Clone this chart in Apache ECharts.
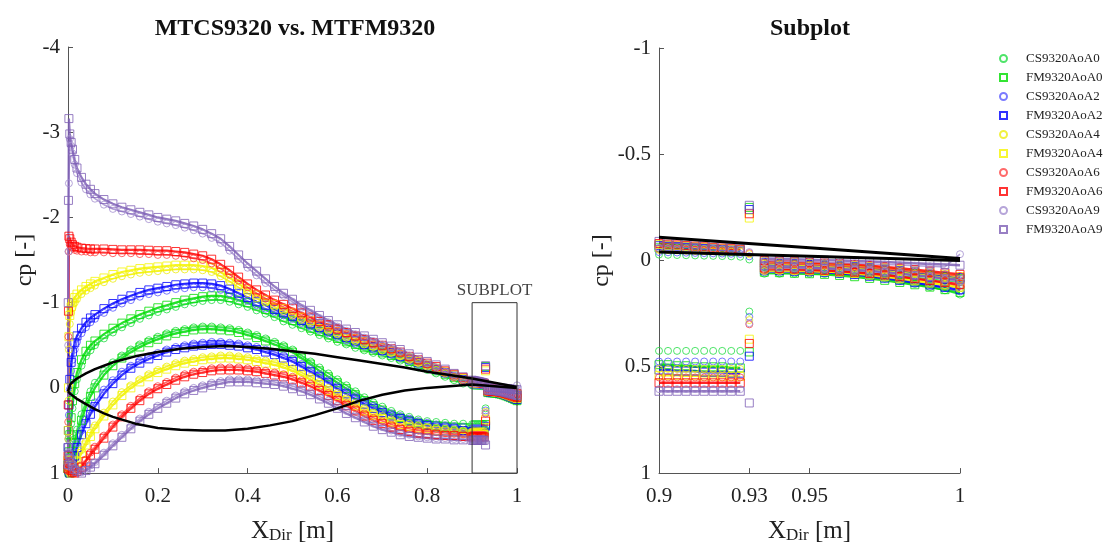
<!DOCTYPE html>
<html>
<head>
<meta charset="UTF-8">
<title>MTCS9320 vs. MTFM9320</title>
<script src="https://cdn.jsdelivr.net/npm/echarts@6/dist/echarts.min.js"></script>
<style>html,body{margin:0;background:#fff}</style>
</head>
<body>
<div id="chart" style="width:1110px;height:549px"></div>
<script>
// chord stations (upper surface incl. leading edge wrap, lower surface, trailing part 0.9-1)
const xUp = [0, 0.0005, 0.001, 0.002, 0.004, 0.007, 0.01, 0.015, 0.02, 0.03, 0.04, 0.05,
  0.06, 0.08, 0.1, 0.12, 0.14, 0.16, 0.18, 0.2, 0.22, 0.24, 0.26, 0.28, 0.3, 0.32, 0.34,
  0.36, 0.38, 0.4, 0.42, 0.44, 0.46, 0.48, 0.5, 0.52, 0.54, 0.56, 0.58, 0.6, 0.62, 0.64,
  0.66, 0.68, 0.7, 0.72, 0.74, 0.76, 0.78, 0.8, 0.82, 0.84, 0.86, 0.88];
const xLo = [0, 0.002, 0.004, 0.007, 0.01, 0.015, 0.02, 0.03, 0.04, 0.05,
  0.06, 0.08, 0.1, 0.12, 0.14, 0.16, 0.18, 0.2, 0.22, 0.24, 0.26, 0.28, 0.3, 0.32, 0.34,
  0.36, 0.38, 0.4, 0.42, 0.44, 0.46, 0.48, 0.5, 0.52, 0.54, 0.56, 0.58, 0.6, 0.62, 0.64,
  0.66, 0.68, 0.7, 0.72, 0.74, 0.76, 0.78, 0.8, 0.82, 0.84, 0.86, 0.88];
// 10 stations before the step, the step point at 0.93, 14 stations after it
const xTail = [0.9, 0.903, 0.906, 0.909, 0.912, 0.915, 0.918, 0.921, 0.924, 0.927, 0.93,
  0.935, 0.94, 0.945, 0.95, 0.955, 0.96, 0.965, 0.97, 0.975, 0.98, 0.985, 0.99, 0.995, 1];

// AoA 0
const fmUp0 = [0.95, 0.9, 0.85, 0.75, 0.55, 0.35, 0.15, -0.05, -0.18, -0.33, -0.43, -0.5,
  -0.55, -0.63, -0.7, -0.76, -0.81, -0.86, -0.9, -0.94, -0.97, -1, -1.03, -1.05, -1.07, -1.08, -1.08,
  -1.06, -1.03, -1.0, -0.96, -0.92, -0.88, -0.83, -0.79, -0.75, -0.7, -0.66, -0.62, -0.58, -0.54, -0.51,
  -0.47, -0.44, -0.41, -0.38, -0.35, -0.31, -0.27, -0.24, -0.2, -0.16, -0.12, -0.09];
const csUp0 = [0.97, 0.93, 0.88, 0.8, 0.62, 0.42, 0.24, 0.04, -0.1, -0.26, -0.37, -0.44,
  -0.5, -0.58, -0.65, -0.71, -0.76, -0.81, -0.85, -0.89, -0.92, -0.95, -0.98, -1.0, -1.02, -1.03, -1.03,
  -1.01, -0.98, -0.95, -0.91, -0.87, -0.83, -0.78, -0.74, -0.7, -0.66, -0.62, -0.58, -0.54, -0.51, -0.47,
  -0.44, -0.41, -0.38, -0.35, -0.32, -0.28, -0.24, -0.21, -0.17, -0.13, -0.09, -0.05];
const fmLo0 = [0.95, 0.99, 1.0, 0.92, 0.8, 0.65, 0.55, 0.38, 0.22, 0.1,
  0.0, -0.15, -0.26, -0.35, -0.42, -0.48, -0.53, -0.57, -0.61, -0.64, -0.66, -0.68, -0.69, -0.69, -0.68,
  -0.67, -0.65, -0.62, -0.59, -0.55, -0.51, -0.47, -0.42, -0.35, -0.28, -0.2, -0.13, -0.06, 0.01, 0.08,
  0.15, 0.21, 0.26, 0.31, 0.35, 0.38, 0.41, 0.43, 0.44, 0.45, 0.46, 0.47];
const csLo0 = [0.93, 0.98, 0.99, 0.9, 0.76, 0.6, 0.49, 0.31, 0.16, 0.04,
  -0.06, -0.2, -0.3, -0.38, -0.45, -0.51, -0.56, -0.6, -0.64, -0.67, -0.69, -0.71, -0.72, -0.72, -0.71,
  -0.7, -0.68, -0.65, -0.62, -0.58, -0.54, -0.5, -0.45, -0.38, -0.31, -0.24, -0.17, -0.1, -0.03, 0.04,
  0.11, 0.17, 0.22, 0.27, 0.31, 0.34, 0.37, 0.39, 0.4, 0.41, 0.42, 0.42];
const fmTailUp0 = [-0.06, -0.058, -0.056, -0.054, -0.052, -0.05, -0.048, -0.046, -0.044, -0.042, -0.25,
  0.015, 0.018, 0.02, 0.023, 0.026, 0.03, 0.034, 0.039, 0.045, 0.052, 0.06, 0.068, 0.077, 0.085];
const csTailUp0 = [-0.028, -0.027, -0.026, -0.025, -0.024, -0.023, -0.022, -0.021, -0.02, -0.018, -0.005,
  0.03, 0.033, 0.036, 0.04, 0.044, 0.048, 0.053, 0.058, 0.064, 0.071, 0.079, 0.087, 0.095, 0.1];
const fmTailLo0 = [0.49, 0.49, 0.495, 0.495, 0.5, 0.5, 0.5, 0.5, 0.505, 0.505, 0.43,
  0.055, 0.057, 0.06, 0.062, 0.065, 0.07, 0.076, 0.084, 0.093, 0.103, 0.114, 0.125, 0.137, 0.15];
const csTailLo0 = [0.425, 0.425, 0.425, 0.425, 0.425, 0.425, 0.425, 0.425, 0.425, 0.425, 0.24,
  0.062, 0.062, 0.062, 0.062, 0.063, 0.064, 0.068, 0.075, 0.085, 0.097, 0.11, 0.125, 0.14, 0.16];

// AoA 2
const fmUp2 = [0.9, 0.7, 0.5, 0.2, -0.1, -0.3, -0.42, -0.53, -0.61, -0.7, -0.77, -0.82,
  -0.86, -0.93, -0.99, -1.04, -1.08, -1.12, -1.15, -1.17, -1.19, -1.21, -1.22, -1.23, -1.23, -1.22, -1.2,
  -1.16, -1.11, -1.06, -1.01, -0.97, -0.92, -0.88, -0.84, -0.79, -0.75, -0.71, -0.67, -0.63, -0.59, -0.55,
  -0.51, -0.48, -0.44, -0.41, -0.37, -0.34, -0.3, -0.26, -0.22, -0.18, -0.14, -0.1];
const csUp2 = [0.93, 0.78, 0.6, 0.32, 0.02, -0.2, -0.33, -0.45, -0.54, -0.64, -0.71, -0.77,
  -0.81, -0.88, -0.94, -0.99, -1.03, -1.07, -1.1, -1.12, -1.14, -1.16, -1.17, -1.18, -1.18, -1.17, -1.15,
  -1.11, -1.07, -1.02, -0.97, -0.93, -0.89, -0.85, -0.81, -0.76, -0.72, -0.68, -0.64, -0.6, -0.56, -0.52,
  -0.49, -0.45, -0.42, -0.39, -0.35, -0.31, -0.27, -0.24, -0.2, -0.16, -0.12, -0.08];
const fmLo2 = [0.9, 0.97, 1.0, 0.97, 0.9, 0.8, 0.7, 0.55, 0.42, 0.31,
  0.22, 0.07, -0.05, -0.15, -0.23, -0.29, -0.34, -0.38, -0.42, -0.45, -0.47, -0.49, -0.5, -0.51, -0.51,
  -0.5, -0.49, -0.47, -0.45, -0.42, -0.39, -0.35, -0.31, -0.25, -0.19, -0.13, -0.06, 0.01, 0.07, 0.13,
  0.19, 0.24, 0.29, 0.33, 0.36, 0.39, 0.42, 0.44, 0.46, 0.47, 0.48, 0.5];
const csLo2 = [0.88, 0.96, 0.99, 0.95, 0.87, 0.76, 0.65, 0.5, 0.37, 0.26,
  0.17, 0.02, -0.09, -0.19, -0.26, -0.32, -0.37, -0.41, -0.45, -0.48, -0.5, -0.52, -0.53, -0.54, -0.54,
  -0.53, -0.52, -0.5, -0.48, -0.45, -0.42, -0.38, -0.34, -0.28, -0.22, -0.16, -0.09, -0.02, 0.04, 0.1,
  0.16, 0.21, 0.26, 0.3, 0.33, 0.36, 0.39, 0.41, 0.43, 0.44, 0.45, 0.46];
const fmTailUp2 = [-0.07, -0.068, -0.065, -0.063, -0.06, -0.058, -0.055, -0.053, -0.05, -0.048, -0.24,
  0.01, 0.012, 0.015, 0.018, 0.021, 0.025, 0.029, 0.034, 0.04, 0.047, 0.055, 0.063, 0.072, 0.08];
const csTailUp2 = [-0.04, -0.039, -0.038, -0.037, -0.036, -0.035, -0.034, -0.033, -0.032, -0.031, -0.02,
  0.02, 0.023, 0.026, 0.03, 0.034, 0.038, 0.043, 0.048, 0.054, 0.061, 0.069, 0.077, 0.085, 0.093];
const fmTailLo2 = [0.515, 0.515, 0.52, 0.52, 0.52, 0.525, 0.525, 0.525, 0.53, 0.53, 0.45,
  0.045, 0.047, 0.05, 0.052, 0.055, 0.06, 0.066, 0.074, 0.083, 0.093, 0.104, 0.115, 0.126, 0.137];
const csTailLo2 = [0.475, 0.475, 0.475, 0.475, 0.475, 0.475, 0.475, 0.475, 0.475, 0.475, 0.265,
  0.055, 0.055, 0.056, 0.057, 0.058, 0.06, 0.064, 0.07, 0.079, 0.09, 0.102, 0.115, 0.13, 0.145];

// AoA 4
const fmUp4 = [0.9, 0.5, 0.0, -0.6, -0.85, -0.95, -1.0, -1.06, -1.1, -1.15, -1.19, -1.22,
  -1.25, -1.29, -1.33, -1.36, -1.38, -1.4, -1.41, -1.42, -1.43, -1.44, -1.44, -1.44, -1.43, -1.41, -1.36,
  -1.29, -1.22, -1.15, -1.09, -1.03, -0.98, -0.93, -0.88, -0.83, -0.79, -0.74, -0.7, -0.66, -0.62, -0.58,
  -0.54, -0.5, -0.47, -0.43, -0.39, -0.35, -0.31, -0.27, -0.23, -0.19, -0.15, -0.11];
const csUp4 = [0.93, 0.6, 0.15, -0.45, -0.75, -0.88, -0.94, -1.0, -1.04, -1.1, -1.14, -1.17,
  -1.2, -1.24, -1.28, -1.31, -1.33, -1.35, -1.36, -1.37, -1.38, -1.39, -1.39, -1.39, -1.38, -1.36, -1.31,
  -1.25, -1.18, -1.11, -1.05, -1.0, -0.95, -0.9, -0.85, -0.8, -0.76, -0.71, -0.67, -0.63, -0.59, -0.55,
  -0.51, -0.48, -0.44, -0.41, -0.37, -0.33, -0.29, -0.25, -0.21, -0.17, -0.12, -0.08];
const fmLo4 = [0.85, 0.93, 0.97, 1.0, 0.98, 0.93, 0.87, 0.77, 0.67, 0.57,
  0.48, 0.33, 0.2, 0.09, 0.0, -0.07, -0.13, -0.18, -0.22, -0.26, -0.29, -0.31, -0.33, -0.34, -0.35,
  -0.35, -0.34, -0.33, -0.31, -0.29, -0.27, -0.24, -0.2, -0.15, -0.1, -0.04, 0.03, 0.09, 0.15, 0.21,
  0.27, 0.32, 0.36, 0.4, 0.43, 0.45, 0.47, 0.48, 0.5, 0.51, 0.52, 0.53];
const csLo4 = [0.83, 0.92, 0.96, 0.99, 0.97, 0.91, 0.84, 0.73, 0.63, 0.53,
  0.44, 0.29, 0.16, 0.05, -0.03, -0.1, -0.16, -0.21, -0.25, -0.29, -0.32, -0.34, -0.36, -0.37, -0.38,
  -0.38, -0.37, -0.36, -0.34, -0.32, -0.3, -0.27, -0.23, -0.18, -0.13, -0.07, 0.0, 0.06, 0.12, 0.18,
  0.24, 0.29, 0.33, 0.37, 0.4, 0.42, 0.44, 0.46, 0.47, 0.48, 0.49, 0.5];
const fmTailUp4 = [-0.075, -0.072, -0.07, -0.067, -0.064, -0.062, -0.059, -0.056, -0.053, -0.05, -0.2,
  0.005, 0.008, 0.01, 0.013, 0.016, 0.02, 0.024, 0.029, 0.035, 0.042, 0.05, 0.058, 0.066, 0.075];
const csTailUp4 = [-0.05, -0.049, -0.048, -0.047, -0.046, -0.045, -0.044, -0.043, -0.042, -0.041, -0.03,
  0.015, 0.018, 0.021, 0.024, 0.028, 0.032, 0.037, 0.042, 0.048, 0.055, 0.062, 0.07, 0.078, 0.086];
const fmTailLo4 = [0.54, 0.54, 0.54, 0.542, 0.542, 0.544, 0.544, 0.545, 0.545, 0.545, 0.37,
  0.04, 0.042, 0.045, 0.048, 0.051, 0.055, 0.061, 0.068, 0.076, 0.085, 0.095, 0.105, 0.115, 0.125];
const csTailLo4 = [0.51, 0.51, 0.51, 0.51, 0.51, 0.51, 0.51, 0.51, 0.51, 0.51, 0.28,
  0.05, 0.05, 0.051, 0.052, 0.054, 0.056, 0.06, 0.066, 0.074, 0.083, 0.093, 0.104, 0.116, 0.13];

// AoA 6
const fmUp6 = [0.95, 0.2, -0.9, -1.78, -1.75, -1.71, -1.68, -1.66, -1.65, -1.64, -1.635, -1.63,
  -1.63, -1.63, -1.625, -1.62, -1.62, -1.62, -1.615, -1.61, -1.61, -1.6, -1.59, -1.57, -1.55, -1.51, -1.45,
  -1.38, -1.3, -1.22, -1.15, -1.09, -1.03, -0.98, -0.93, -0.88, -0.83, -0.78, -0.74, -0.69, -0.65, -0.61,
  -0.57, -0.53, -0.5, -0.46, -0.42, -0.37, -0.33, -0.29, -0.25, -0.2, -0.16, -0.12];
const csUp6 = [0.97, 0.4, -0.6, -1.6, -1.68, -1.66, -1.64, -1.62, -1.61, -1.6, -1.6, -1.59,
  -1.59, -1.59, -1.58, -1.58, -1.58, -1.57, -1.57, -1.56, -1.56, -1.55, -1.54, -1.52, -1.5, -1.46, -1.4,
  -1.33, -1.26, -1.18, -1.11, -1.05, -1.0, -0.95, -0.9, -0.85, -0.8, -0.76, -0.71, -0.67, -0.63, -0.59,
  -0.55, -0.51, -0.48, -0.44, -0.4, -0.35, -0.31, -0.27, -0.23, -0.18, -0.13, -0.09];
const fmLo6 = [0.8, 0.88, 0.93, 0.97, 0.99, 1.0, 0.98, 0.93, 0.86, 0.79,
  0.72, 0.59, 0.46, 0.34, 0.24, 0.15, 0.07, 0.01, -0.04, -0.09, -0.13, -0.16, -0.18, -0.2, -0.21,
  -0.21, -0.21, -0.2, -0.19, -0.17, -0.15, -0.13, -0.1, -0.06, -0.02, 0.03, 0.09, 0.15, 0.21, 0.27,
  0.33, 0.38, 0.42, 0.46, 0.49, 0.51, 0.53, 0.54, 0.55, 0.56, 0.56, 0.57];
const csLo6 = [0.78, 0.87, 0.92, 0.96, 0.99, 1.0, 0.97, 0.91, 0.84, 0.76,
  0.69, 0.56, 0.43, 0.31, 0.21, 0.12, 0.04, -0.02, -0.07, -0.12, -0.16, -0.19, -0.21, -0.23, -0.24,
  -0.24, -0.24, -0.23, -0.22, -0.2, -0.18, -0.16, -0.13, -0.09, -0.05, 0.0, 0.06, 0.12, 0.18, 0.24,
  0.3, 0.35, 0.39, 0.43, 0.46, 0.48, 0.5, 0.51, 0.52, 0.53, 0.54, 0.545];
const fmTailUp6 = [-0.08, -0.077, -0.074, -0.071, -0.068, -0.065, -0.062, -0.059, -0.056, -0.053, -0.22,
  0.0, 0.003, 0.006, 0.009, 0.012, 0.015, 0.019, 0.024, 0.03, 0.036, 0.043, 0.05, 0.058, 0.065];
const csTailUp6 = [-0.055, -0.054, -0.053, -0.052, -0.051, -0.05, -0.049, -0.048, -0.047, -0.046, -0.035,
  0.01, 0.013, 0.016, 0.019, 0.022, 0.026, 0.03, 0.035, 0.04, 0.046, 0.052, 0.059, 0.066, 0.073];
const fmTailLo6 = [0.575, 0.575, 0.575, 0.575, 0.575, 0.575, 0.575, 0.575, 0.575, 0.575, 0.39,
  0.035, 0.037, 0.04, 0.043, 0.046, 0.05, 0.055, 0.061, 0.068, 0.076, 0.085, 0.094, 0.103, 0.112];
const csTailLo6 = [0.55, 0.55, 0.55, 0.55, 0.55, 0.55, 0.55, 0.55, 0.55, 0.55, 0.3,
  0.045, 0.045, 0.046, 0.047, 0.049, 0.051, 0.055, 0.06, 0.067, 0.075, 0.084, 0.094, 0.105, 0.12];

// AoA 9
const fmUp9 = [0.9, -1.0, -2.2, -3.16, -2.98, -2.88, -2.8, -2.68, -2.58, -2.47, -2.39, -2.33,
  -2.28, -2.21, -2.16, -2.12, -2.09, -2.06, -2.03, -2.0, -1.98, -1.96, -1.93, -1.9, -1.86, -1.81, -1.75,
  -1.66, -1.56, -1.46, -1.37, -1.28, -1.19, -1.11, -1.04, -0.97, -0.91, -0.85, -0.79, -0.74, -0.69, -0.65,
  -0.61, -0.57, -0.53, -0.49, -0.45, -0.4, -0.36, -0.31, -0.27, -0.22, -0.17, -0.13];
const csUp9 = [0.92, -0.5, -1.6, -2.4, -2.92, -2.84, -2.75, -2.62, -2.52, -2.41, -2.33, -2.27,
  -2.22, -2.15, -2.1, -2.07, -2.04, -2.01, -1.98, -1.95, -1.93, -1.91, -1.88, -1.85, -1.81, -1.76, -1.7,
  -1.61, -1.51, -1.41, -1.32, -1.23, -1.15, -1.08, -1.01, -0.94, -0.88, -0.82, -0.77, -0.72, -0.67, -0.63,
  -0.59, -0.55, -0.51, -0.47, -0.43, -0.38, -0.34, -0.29, -0.24, -0.19, -0.14, -0.1];
const fmLo9 = [0.7, 0.78, 0.83, 0.88, 0.92, 0.96, 0.98, 1.0, 0.97, 0.93,
  0.89, 0.79, 0.68, 0.58, 0.48, 0.39, 0.31, 0.24, 0.18, 0.12, 0.07, 0.03, 0.0, -0.03, -0.05,
  -0.07, -0.07, -0.07, -0.06, -0.05, -0.04, -0.02, 0.01, 0.04, 0.08, 0.13, 0.18, 0.24, 0.3, 0.35,
  0.4, 0.45, 0.49, 0.52, 0.55, 0.57, 0.58, 0.59, 0.6, 0.6, 0.61, 0.61];
const csLo9 = [0.68, 0.76, 0.82, 0.87, 0.91, 0.95, 0.97, 0.99, 0.96, 0.91,
  0.87, 0.76, 0.65, 0.55, 0.45, 0.36, 0.28, 0.21, 0.15, 0.09, 0.04, 0.0, -0.03, -0.06, -0.08,
  -0.1, -0.1, -0.1, -0.09, -0.08, -0.07, -0.05, -0.02, 0.01, 0.05, 0.1, 0.15, 0.21, 0.27, 0.32,
  0.37, 0.42, 0.46, 0.5, 0.53, 0.55, 0.57, 0.58, 0.59, 0.59, 0.6, 0.6];
const fmTailUp9 = [-0.09, -0.087, -0.083, -0.08, -0.077, -0.073, -0.07, -0.066, -0.062, -0.058, -0.26,
  -0.01, -0.008, -0.006, -0.004, -0.002, 0.0, 0.002, 0.004, 0.007, 0.01, 0.013, 0.016, 0.019, 0.022];
const csTailUp9 = [-0.06, -0.059, -0.058, -0.057, -0.056, -0.055, -0.054, -0.053, -0.052, -0.051, -0.04,
  0.0, 0.002, 0.004, 0.006, 0.008, 0.01, 0.012, 0.015, 0.018, 0.021, 0.024, 0.027, 0.03, -0.03];
const fmTailLo9 = [0.615, 0.615, 0.615, 0.615, 0.615, 0.615, 0.615, 0.615, 0.615, 0.615, 0.67,
  0.025, 0.027, 0.03, 0.033, 0.036, 0.04, 0.044, 0.049, 0.055, 0.062, 0.069, 0.076, 0.084, 0.09];
const csTailLo9 = [0.605, 0.605, 0.605, 0.605, 0.605, 0.605, 0.605, 0.605, 0.605, 0.605, 0.295,
  0.035, 0.035, 0.036, 0.037, 0.038, 0.04, 0.043, 0.048, 0.054, 0.061, 0.069, 0.078, 0.088, 0.1];

// profile contour (black)
const profX  = [0, 0.005, 0.01, 0.02, 0.04, 0.06, 0.08, 0.1, 0.15, 0.2, 0.25, 0.3, 0.35, 0.4, 0.45,
  0.5, 0.55, 0.6, 0.65, 0.7, 0.75, 0.8, 0.85, 0.9, 0.95, 1];
const profUp = [0.04, -0.04, -0.07, -0.11, -0.17, -0.22, -0.26, -0.3, -0.37, -0.42, -0.46, -0.48, -0.49, -0.48, -0.46,
  -0.43, -0.4, -0.36, -0.32, -0.28, -0.24, -0.19, -0.15, -0.11, -0.06, -0.01];
const profLo = [0.04, 0.07, 0.09, 0.13, 0.19, 0.25, 0.3, 0.34, 0.42, 0.47, 0.49, 0.5, 0.5, 0.48, 0.44,
  0.39, 0.32, 0.24, 0.15, 0.08, 0.03, 0.0, -0.02, -0.04, -0.02, 0.0];

const subBox = [[0.9, -1], [1, -1], [1, 1], [0.9, 1], [0.9, -1]];
const subTicks = [0.9, 0.93, 0.95, 1];

const sets = [
  { name: 'CS9320AoA0', color: '#22dd44', shape: 'circle', up: csUp0, lo: csLo0, tu: csTailUp0, tl: csTailLo0 },
  { name: 'FM9320AoA0', color: '#00dd00', shape: 'rect',   up: fmUp0, lo: fmLo0, tu: fmTailUp0, tl: fmTailLo0 },
  { name: 'CS9320AoA2', color: '#5a5aff', shape: 'circle', up: csUp2, lo: csLo2, tu: csTailUp2, tl: csTailLo2 },
  { name: 'FM9320AoA2', color: '#0000ff', shape: 'rect',   up: fmUp2, lo: fmLo2, tu: fmTailUp2, tl: fmTailLo2 },
  { name: 'CS9320AoA4', color: '#eeee10', shape: 'circle', up: csUp4, lo: csLo4, tu: csTailUp4, tl: csTailLo4 },
  { name: 'FM9320AoA4', color: '#f5f500', shape: 'rect',   up: fmUp4, lo: fmLo4, tu: fmTailUp4, tl: fmTailLo4 },
  { name: 'CS9320AoA6', color: '#ff4545', shape: 'circle', up: csUp6, lo: csLo6, tu: csTailUp6, tl: csTailLo6 },
  { name: 'FM9320AoA6', color: '#ff0000', shape: 'rect',   up: fmUp6, lo: fmLo6, tu: fmTailUp6, tl: fmTailLo6 },
  { name: 'CS9320AoA9', color: '#a48ed0', shape: 'circle', up: csUp9, lo: csLo9, tu: csTailUp9, tl: csTailLo9 },
  { name: 'FM9320AoA9', color: '#7e5fb5', shape: 'rect',   up: fmUp9, lo: fmLo9, tu: fmTailUp9, tl: fmTailLo9 }
];

function pts(xs, ys, tag) {
  if (xs.length !== ys.length) throw new Error('length mismatch ' + tag + ': ' + xs.length + ' vs ' + ys.length);
  return xs.map((x, i) => [x, ys[i]]);
}
// join segments with '-' so the line breaks between them
function joinSegs(segs) {
  const out = [];
  segs.forEach((sg, i) => { if (i) out.push('-'); sg.forEach(p => out.push(p)); });
  return out;
}

const font = "'Liberation Serif', 'DejaVu Serif', serif";
const series = [];

sets.forEach(s => {
  const tu = pts(xTail, s.tu, s.name + ' tu');
  const tl = pts(xTail, s.tl, s.name + ' tl');
  const upMain = pts(xUp, s.up, s.name + ' up');
  const loMain = pts(xLo, s.lo, s.name + ' lo');
  const preUp = tu.slice(0, 10), postUp = tu.slice(11);
  const preLo = tl.slice(0, 10), postLo = tl.slice(11);
  const all = [].concat(upMain, tu, loMain, tl);
  const isCS = s.shape === 'circle';

  const marks = {
    type: 'scatter', name: s.name, symbol: s.shape,
    itemStyle: { color: 'rgba(0,0,0,0)', borderColor: s.color, borderWidth: 1 },
    emphasis: { disabled: true }, silent: true, z: 3
  };
  series.push(Object.assign({}, marks, { xAxisIndex: 0, yAxisIndex: 0, data: all, symbolSize: isCS ? 7 : 8 }));
  series.push(Object.assign({}, marks, { xAxisIndex: 1, yAxisIndex: 1, data: [].concat(tu, tl), symbolSize: isCS ? 7 : 8 }));

  // thin trace through the same points, so the dense bands read as in the original
  const trace = {
    type: 'line', symbol: 'none', silent: true, z: 2, connectNulls: false,
    lineStyle: { color: s.color, width: isCS ? 1.6 : 2.2, opacity: 0.85 }
  };
  series.push(Object.assign({}, trace, { xAxisIndex: 0, yAxisIndex: 0,
    data: joinSegs([upMain.concat(preUp), postUp, loMain.concat(preLo), postLo]) }));
  series.push(Object.assign({}, trace, { xAxisIndex: 1, yAxisIndex: 1,
    lineStyle: { color: s.color, width: isCS ? 1.5 : 2.5, opacity: 0.85 },
    data: joinSegs(isCS ? [postUp, postLo] : [preUp, postUp, preLo, postLo]) }));
});

// profile contour: full chord on the main plot, only the rear part on the subplot
[profUp, profLo].forEach(p => {
  const line = pts(profX, p, 'prof');
  series.push({
    type: 'line', xAxisIndex: 0, yAxisIndex: 0, data: line,
    symbol: 'none', lineStyle: { color: '#000', width: 2.5 }, z: 10, silent: true
  });
  series.push({
    type: 'line', xAxisIndex: 1, yAxisIndex: 1, data: line.filter(q => q[0] >= 0.9),
    symbol: 'none', lineStyle: { color: '#000', width: 3 }, z: 10, silent: true
  });
});

// box marking the zoomed region + its caption
series.push({
  type: 'line', xAxisIndex: 0, yAxisIndex: 0, data: subBox, symbol: 'none',
  lineStyle: { color: '#333', width: 1 }, z: 11, silent: true
});
series.push({
  type: 'scatter', xAxisIndex: 0, yAxisIndex: 0, data: [[0.95, -1]], symbolSize: 0, silent: true,
  label: { show: true, position: 'top', distance: 4, formatter: 'SUBPLOT',
           fontFamily: font, fontSize: 17, color: '#111' }
});

function xAxisBase(extra) {
  return Object.assign({
    type: 'value',
    axisLine: { show: true, onZero: false, lineStyle: { color: '#555', width: 1 } },
    axisTick: { show: true, inside: true, length: 5, lineStyle: { color: '#555' } },
    axisLabel: { fontFamily: font, fontSize: 21, color: '#222', margin: 13 },
    splitLine: { show: false },
    nameLocation: 'middle',
    nameGap: 43,
    nameTextStyle: {
      rich: {
        a: { fontFamily: font, fontSize: 25, color: '#222', verticalAlign: 'top', lineHeight: 25 },
        b: { fontFamily: font, fontSize: 17, color: '#222', verticalAlign: 'bottom', lineHeight: 17, padding: [15, 0, 0, 0] }
      }
    },
    name: '{a|X}{b|Dir}{a| [m]}'
  }, extra);
}
function yAxisBase(extra) {
  return Object.assign({
    type: 'value',
    inverse: true,
    axisLine: { show: true, onZero: false, lineStyle: { color: '#555', width: 1 } },
    axisTick: { show: true, inside: true, length: 5, lineStyle: { color: '#555' } },
    axisLabel: { fontFamily: font, fontSize: 21, color: '#222', margin: 8 },
    splitLine: { show: false },
    name: 'cp [-]',
    nameLocation: 'middle',
    nameRotate: 90,
    nameTextStyle: { fontFamily: font, fontSize: 24, color: '#222' }
  }, extra);
}

const chart = echarts.init(document.getElementById('chart'));
chart.setOption({
  animation: false,
  backgroundColor: '#fff',
  title: [
    { text: 'MTCS9320 vs. MTFM9320', left: 290, top: 12, textAlign: 'center',
      textStyle: { fontFamily: font, fontSize: 24, fontWeight: 'bold', color: '#111' } },
    { text: 'Subplot', left: 805, top: 12, textAlign: 'center',
      textStyle: { fontFamily: font, fontSize: 24, fontWeight: 'bold', color: '#111' } }
  ],
  legend: {
    orient: 'vertical', left: 999, top: 52, padding: 0, itemWidth: 7, itemHeight: 7, itemGap: 6,
    textStyle: { fontFamily: font, fontSize: 13, lineHeight: 13, color: '#222', padding: [0, 0, 0, 14] },
    data: sets.map(s => ({ name: s.name, icon: s.shape }))
  },
  grid: [
    { left: 68, top: 47, width: 449, height: 430 },
    { left: 659, top: 48, width: 301, height: 430 }
  ],
  xAxis: [
    xAxisBase({ gridIndex: 0, min: 0, max: 1, interval: 0.2 }),
    xAxisBase({ gridIndex: 1, min: 0.9, max: 1,
      axisTick: { show: true, inside: true, length: 5, lineStyle: { color: '#555' }, customValues: subTicks },
      axisLabel: { fontFamily: font, fontSize: 21, color: '#222', margin: 13, customValues: subTicks } })
  ],
  yAxis: [
    yAxisBase({ gridIndex: 0, min: -4, max: 1, interval: 1, nameGap: 31 }),
    yAxisBase({ gridIndex: 1, min: -1, max: 1, interval: 0.5, nameGap: 38 })
  ],
  series: series
});
</script>
</body>
</html>
